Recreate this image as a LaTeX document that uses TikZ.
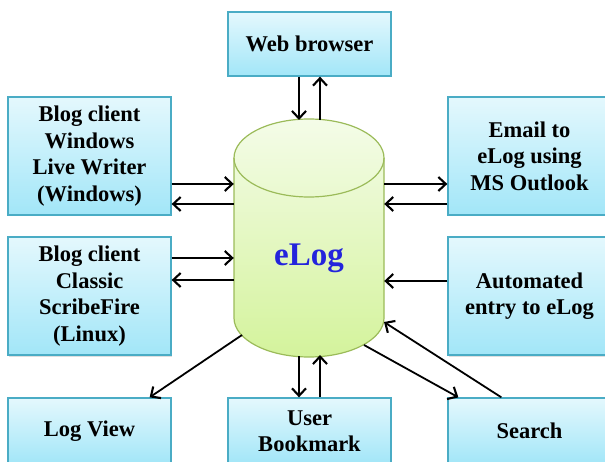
\documentclass[tikz,border=0pt]{standalone}
\usepackage{fontspec}
\setmainfont{Liberation Serif}
\usetikzlibrary{arrows.meta,shadows}

\definecolor{boxtop}{HTML}{E4F8FD}
\definecolor{boxbot}{HTML}{A2E6F8}
\definecolor{boxline}{HTML}{4AACC5}
\definecolor{cyltop}{HTML}{F4FCE8}
\definecolor{cylbot}{HTML}{D4F39C}
\definecolor{cylline}{HTML}{9BBB59}
\definecolor{logblue}{HTML}{2424DC}

\tikzset{
  infobox/.style={draw=boxline, line width=1.3pt, top color=boxtop, bottom color=boxbot,
    minimum width=163pt, inner sep=0pt, align=center,
    font=\bfseries\fontsize{22.5}{26.5}\selectfont,
    drop shadow={shadow xshift=1pt, shadow yshift=-1.5pt, opacity=0.25}},
  tallbox/.style={infobox, minimum height=118pt},
  flatbox/.style={infobox, minimum height=64pt},
  arr/.style={-{Straight Barb[length=7.5pt,width=14pt,line width=2.1pt]}, line width=2.1pt, black},
  darr/.style={arr, line width=1.8pt}
}

\begin{document}
\begin{tikzpicture}[x=1pt, y=-1pt]
\useasboundingbox (0,0) rectangle (605,462);
\clip (0,0) rectangle (605,462);

% database cylinder (body with gradient, then the rim of the lid)
\path[top color=cyltop, bottom color=cylbot, draw=cylline, line width=1.2pt]
  (234,158) -- (234,318)
  .. controls (234,339.5) and (267.6,357) .. (309,357)
  .. controls (350.4,357) and (384,339.5) .. (384,318)
  -- (384,158)
  .. controls (384,136.5) and (350.4,119) .. (309,119)
  .. controls (267.6,119) and (234,136.5) .. (234,158) -- cycle;
\draw[cylline, line width=1.2pt]
  (234,158) .. controls (234,179.5) and (267.6,197) .. (309,197)
            .. controls (350.4,197) and (384,179.5) .. (384,158);
\node[minimum width=150pt, minimum height=238pt, inner sep=0pt] (db) at (309,238) {};
\node[text=logblue, font=\bfseries\fontsize{33}{36}\selectfont] (dblabel) at (309,258) {eLog};

% points on the curved rims of the cylinder
\coordinate (topA) at (299,120);
\coordinate (topB) at (320,120);
\coordinate (botA) at (299,356);
\coordinate (botB) at (320,355);
\coordinate (botLV) at (242,335);
\coordinate (botS) at (364,345);
\coordinate (sideS) at (384,322);

% client boxes
\node[flatbox] (web) at (309.5,44) {Web browser};
\node[tallbox] (wlw) at (89.5,156) {Blog client\\Windows\\Live Writer\\(Windows)};
\node[tallbox] (mail) at (529.5,156) {Email to\\eLog using\\MS Outlook};
\node[tallbox] (sf) at (89.5,296) {Blog client\\Classic\\ScribeFire\\(Linux)};
\node[tallbox] (auto) at (529.5,296) {Automated\\entry to eLog};
\node[infobox, minimum height=66pt] (lv) at (89.5,431) {Log View};
\node[infobox, minimum height=66pt] (ub) at (309.5,431) {User\\Bookmark};
\node[infobox, minimum height=66pt] (srch) at (529.5,431) {Search};

% connectors
\draw[arr] (web.south -| topA) -- (topA);
\draw[arr] (topB) -- (web.south -| topB);

\draw[arr] (wlw.east |- 0,184) -- (db.west |- 0,184);
\draw[arr] (db.west |- 0,204) -- (wlw.east |- 0,204);

\draw[arr] (db.east |- 0,184) -- (mail.west |- 0,184);
\draw[arr] (mail.west |- 0,204) -- (db.east |- 0,204);

\draw[arr] (sf.east |- 0,258) -- (db.west |- 0,258);
\draw[arr] (db.west |- 0,280) -- (sf.east |- 0,280);

\draw[arr] (auto.west |- 0,281) -- (db.east |- 0,281);

\draw[arr] (botA) -- (ub.north -| botA);
\draw[arr] (ub.north -| botB) -- (botB);

\draw[darr] (botLV) -- ([xshift=-22pt]lv.north east);
\draw[darr] (botS) -- ([xshift=11pt]srch.north west);
\draw[darr] ([xshift=54pt]srch.north west) -- (sideS);
\end{tikzpicture}
\end{document}
